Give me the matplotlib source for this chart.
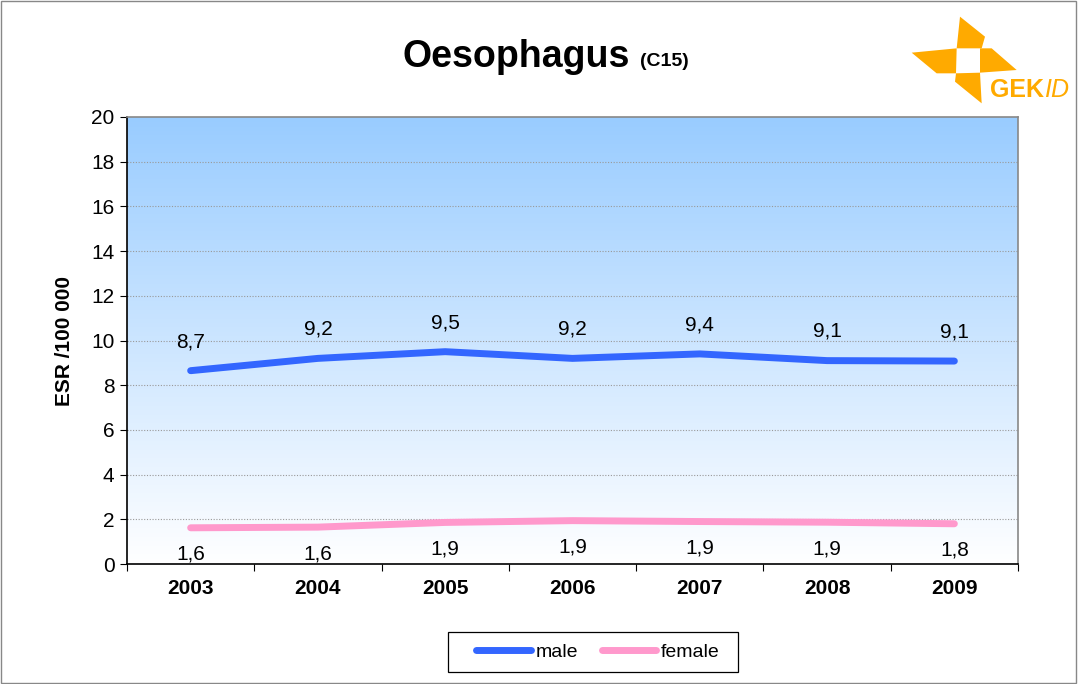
import numpy as np
import matplotlib.pyplot as plt
from matplotlib.patches import Polygon, Rectangle

# Daten
years = ["2003", "2004", "2005", "2006", "2007", "2008", "2009"]
male = [8.65, 9.2, 9.5, 9.2, 9.4, 9.1, 9.08]
female = [1.62, 1.65, 1.86, 1.94, 1.9, 1.87, 1.8]
yticks = [0, 2, 4, 6, 8, 10, 12, 14, 16, 18, 20]

plt.rcParams['font.family'] = ['Liberation Sans', 'DejaVu Sans']

fig = plt.figure(figsize=(10.78, 6.84), dpi=100)
ax = fig.add_axes([127/1078, 120/684, 891/1078, 447/684])

x = np.arange(len(years))

# Hintergrund mit Farbverlauf
grad = np.linspace(0, 1, 256).reshape(-1, 1)
top = np.array([153, 204, 255]) / 255
bottom = np.array([255, 255, 255]) / 255
img = bottom + (top - bottom) * grad[:, :, None] * np.ones((1, 1, 3))
ax.imshow(img, extent=[-0.5, 6.5, 0, 20], origin='lower', aspect='auto', zorder=0)

for t in yticks[1:-1]:
    ax.axhline(t, color='#999999', lw=0.8, ls=(0, (1, 1.5)), zorder=1)

ax.plot(x, male, color='#3366FF', lw=5, solid_capstyle='round', label='male', zorder=3)
ax.plot(x, female, color='#FF99CC', lw=5, solid_capstyle='round', label='female', zorder=3)

def fmt(v):
    return f"{v:.1f}".replace('.', ',')

for xi, v in zip(x, male):
    ax.annotate(fmt(v), (xi, v), xytext=(0, 21), textcoords='offset points',
                ha='center', va='center', fontsize=15)
for xi, v in zip(x, female):
    ax.annotate(fmt(v), (xi, v), xytext=(0, -19), textcoords='offset points',
                ha='center', va='center', fontsize=15)

ax.set_xlim(-0.5, 6.5)
ax.set_ylim(0, 20)
ax.set_yticks(yticks)
ax.set_xticks(np.arange(-0.5, 7, 1))
ax.set_xticklabels([])
ax.set_xticks(x, minor=True)
ax.set_xticklabels(years, minor=True, fontweight='bold', fontsize=15)
ax.tick_params(axis='x', which='minor', length=0, pad=11)
ax.tick_params(axis='x', which='major', length=5, direction='out')
ax.tick_params(axis='y', length=5, direction='out', labelsize=15, pad=4)

ax.spines['left'].set_color('black')
ax.spines['bottom'].set_color('black')
ax.spines['top'].set_color('#888888')
ax.spines['right'].set_color('#888888')
for s in ax.spines.values():
    s.set_linewidth(1.2)

ax.set_ylabel("ESR /100 000", fontweight='bold', fontsize=15, labelpad=12)

fig.text(630/1078, 1 - 57/684, "Oesophagus", ha='right', va='center', fontsize=27, fontweight='bold')
fig.text(640/1078, 1 - 62/684, "(C15)", ha='left', va='center', fontsize=14, fontweight='bold')

# Legende ohne eigenen Rahmen, Rahmen separat
fig.legend(loc='center', bbox_to_anchor=(598/1078, 1 - 652/684), ncol=2, fontsize=14,
           frameon=False, handlelength=2.8, handletextpad=0.25, columnspacing=1.2,
           borderpad=0, borderaxespad=0)
fig.patches.append(Rectangle((448/1078, 1 - 672/684), 290/1078, 40/684, transform=fig.transFigure,
                             fill=False, edgecolor='black', lw=0.9))

# Logo
lax = fig.add_axes([0, 0, 1, 1], zorder=-1)
lax.set_xlim(0, 1078)
lax.set_ylim(684, 0)
lax.axis('off')
orange = '#FFAA00'
def z(px, py):
    return (900 + px / 3, 10 + py / 3)
blades = [
    [(180, 20), (255, 80), (245, 115), (170, 115)],
    [(240, 115), (275, 115), (350, 180), (240, 188)],
    [(168, 190), (240, 188), (245, 280), (165, 215)],
    [(35, 128), (170, 115), (168, 190), (110, 190)],
]
for b in blades:
    lax.add_patch(Polygon([z(*p) for p in b], closed=True, color=orange, lw=0))
t1 = lax.text(990, 90, "GEK", color=orange, fontsize=18, fontweight='bold', va='center', ha='left')
fig.canvas.draw()
bb = t1.get_window_extent()
x_end = bb.x1
lax.text(x_end / 1078, 1 - 90/684, "ID", color=orange, fontsize=18, fontstyle='italic',
         va='center', ha='left', transform=fig.transFigure)

fig.patches.append(Rectangle((0.001, 0.001), 0.997, 0.997, transform=fig.transFigure,
                             fill=False, edgecolor='#888888', lw=1))

fig.savefig("out.png", dpi=100)
